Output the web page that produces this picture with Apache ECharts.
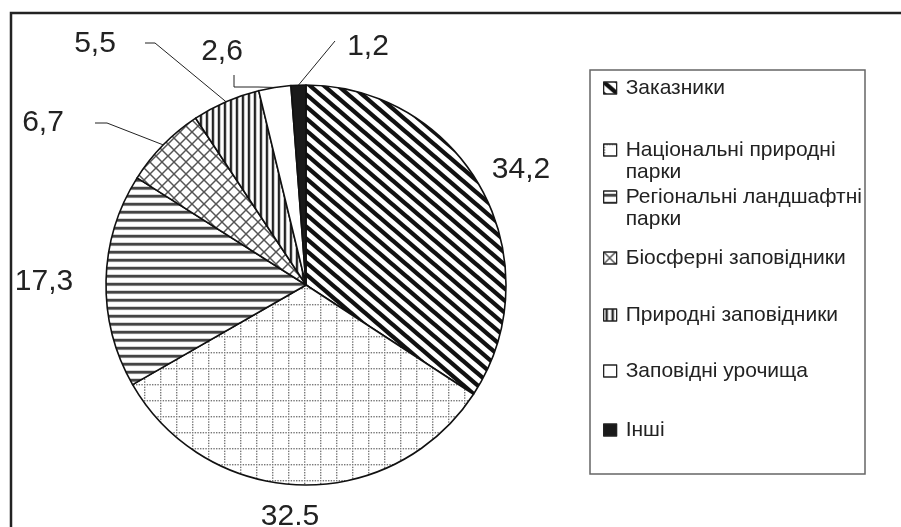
<!DOCTYPE html>
<html>
<head>
<meta charset="utf-8">
<script src="https://cdn.jsdelivr.net/npm/echarts@6/dist/echarts.min.js"></script>
<style>
  html, body { margin: 0; padding: 0; background: #fff; }
  #chart { width: 901px; height: 527px; }
</style>
</head>
<body>
<div id="chart"></div>
<script>
// categories and values (percent)
const categories = [
  'Заказники',
  'Національні природні парки',
  'Регіональні ландшафтні парки',
  'Біосферні заповідники',
  'Природні заповідники',
  'Заповідні урочища',
  'Інші'
];
const values = [34.2, 32.5, 17.3, 6.7, 5.5, 2.6, 1.2];
const valueLabels = ['34,2', '32.5', '17,3', '6,7', '5,5', '2,6', '1,2'];
// legend texts, wrapped as in the picture (leading blank line keeps the icon on the first line)
const legendTexts = [
  'Заказники',
  '\nНаціональні природні\nпарки',
  '\nРегіональні ландшафтні\nпарки',
  'Біосферні заповідники',
  'Природні заповідники',
  'Заповідні урочища',
  'Інші'
];

// layout (not data)
const legendCenters = [88, 150, 197, 258, 315, 371, 430];
const labelPos = [
  { x: 521, y: 170, line: null },
  { x: 290, y: 517, line: null },
  { x: 44, y: 282, line: null },
  { x: 43, y: 123, line: [[95, 123], [107, 123]] },
  { x: 95, y: 44, line: [[145, 43], [155, 43]] },
  { x: 222, y: 52, line: [[234, 75], [234, 87], [258, 87]] },
  { x: 368, y: 47, line: [[335, 41]] }
];

function pattern(w, h, draw) {
  const c = document.createElement('canvas');
  c.width = w; c.height = h;
  const ctx = c.getContext('2d');
  ctx.fillStyle = '#fff';
  ctx.fillRect(0, 0, w, h);
  draw(ctx, w, h);
  return { image: c, repeat: 'repeat' };
}

const fills = [
  // diagonal stripes
  pattern(14, 12, (ctx, w, h) => {
    ctx.strokeStyle = '#111';
    ctx.lineWidth = 4.3;
    for (let k = -1; k <= 1; k++) {
      ctx.beginPath();
      ctx.moveTo(k * w - 7, -6);
      ctx.lineTo(k * w + w + 7, h + 6);
      ctx.stroke();
    }
  }),
  // dotted grid
  pattern(16, 16, (ctx, w, h) => {
    ctx.fillStyle = '#777';
    for (let i = 0; i < w; i += 2.67) ctx.fillRect(i, 0, 1.4, 1.4);
    for (let j = 2.67; j < h - 1; j += 2.67) ctx.fillRect(0, j, 1.4, 1.4);
  }),
  // horizontal lines
  pattern(8, 8.7, (ctx, w, h) => {
    ctx.fillStyle = '#aaa';
    ctx.fillRect(0, 2.5, w, 3.6);
    ctx.fillStyle = '#444';
    ctx.fillRect(0, 3, w, 2.4);
  }),
  // cross hatch
  pattern(12, 12, (ctx, w, h) => {
    ctx.strokeStyle = '#555';
    ctx.lineWidth = 1.5;
    for (let k = -1; k <= 1; k++) {
      ctx.beginPath();
      ctx.moveTo(k * w, 0);
      ctx.lineTo(k * w + w, h);
      ctx.stroke();
      ctx.beginPath();
      ctx.moveTo(k * w + w, 0);
      ctx.lineTo(k * w, h);
      ctx.stroke();
    }
  }),
  // vertical lines
  pattern(6.3, 6, (ctx, w, h) => {
    ctx.fillStyle = '#999';
    ctx.fillRect(1.5, 0, 3, h);
    ctx.fillStyle = '#222';
    ctx.fillRect(2, 0, 1.8, h);
  }),
  '#ffffff',
  '#1a1a1a'
];

const chart = echarts.init(document.getElementById('chart'), null, { renderer: 'canvas' });

const legends = categories.map((name, i) => {
  const lines = legendTexts[i].split('\n').length;
  return {
    data: [name],
    left: 603,
    top: legendCenters[i] - lines * 11,
    padding: 0,
    orient: 'vertical',
    icon: 'rect',
    itemWidth: 13,
    itemHeight: 12,
    selectedMode: false,
    formatter: () => legendTexts[i],
    textStyle: {
      fontFamily: 'Liberation Sans',
      fontSize: 21,
      color: '#222',
      lineHeight: 22,
      padding: [0, 0, 0, 4]
    },
    itemStyle: { borderColor: '#222', borderWidth: 1.3 }
  };
});

const option = {
  animation: false,
  backgroundColor: '#fff',
  legend: legends,
  graphic: [
    {
      type: 'rect',
      shape: { x: 11, y: 13, width: 1000, height: 1000 },
      style: { fill: 'none', stroke: '#222', lineWidth: 2.5 },
      silent: true
    },
    {
      type: 'rect',
      shape: { x: 590, y: 70, width: 275, height: 404 },
      style: { fill: 'none', stroke: '#666', lineWidth: 1.5 },
      silent: true
    }
  ],
  series: [
    {
      type: 'pie',
      center: [306, 285],
      radius: 200,
      startAngle: 90,
      clockwise: true,
      silent: true,
      itemStyle: { borderColor: '#111', borderWidth: 1.6 },
      label: {
        show: true,
        position: 'outside',
        overflow: 'none',
        fontFamily: 'Liberation Sans',
        fontSize: 30,
        color: '#222',
        formatter: p => valueLabels[p.dataIndex]
      },
      labelLine: { show: true, lineStyle: { color: '#222', width: 1 } },
      labelLayout: p => {
        const lp = labelPos[p.dataIndex];
        const res = { x: lp.x, y: lp.y, align: 'center', verticalAlign: 'middle', width: 120 };
        if (lp.line && p.labelLinePoints) {
          res.labelLinePoints = lp.line.concat([p.labelLinePoints[0]]).reverse();
        }
        return res;
      },
      data: categories.map((name, i) => ({
        name: name,
        value: values[i],
        itemStyle: { color: fills[i] },
        labelLine: { show: !!labelPos[i].line }
      }))
    }
  ]
};

chart.setOption(option);
</script>
</body>
</html>
